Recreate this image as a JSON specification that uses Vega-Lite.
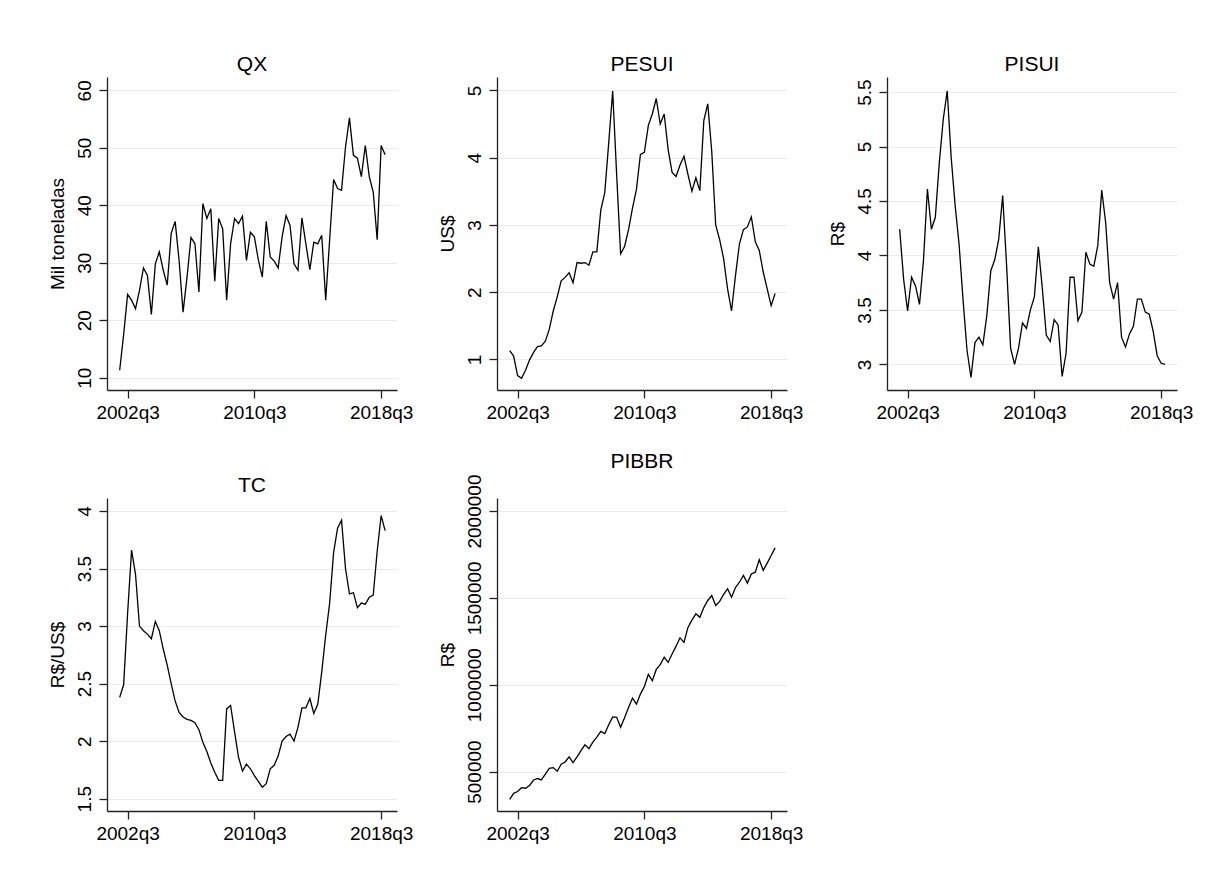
{
  "$schema": "https://vega.github.io/schema/vega-lite/v6.json",
  "autosize": {"type": "none"},
  "padding": {"left": 107, "top": 77, "right": 1111, "bottom": 805},
  "background": "white",
  "datasets": {
    "ts": [
      {"q":"2002q1","t":2002,"QX":11.3,"PESUI":1.13,"PISUI":4.24,"TC":2.38,"PIBBR":340000},
      {"q":"2002q2","t":2002.25,"QX":17.5,"PESUI":1.05,"PISUI":3.78,"TC":2.49,"PIBBR":375000},
      {"q":"2002q3","t":2002.5,"QX":24.5,"PESUI":0.76,"PISUI":3.49,"TC":3.11,"PIBBR":385000},
      {"q":"2002q4","t":2002.75,"QX":23.5,"PESUI":0.72,"PISUI":3.80,"TC":3.66,"PIBBR":407000},
      {"q":"2003q1","t":2003,"QX":22.0,"PESUI":0.84,"PISUI":3.72,"TC":3.45,"PIBBR":404000},
      {"q":"2003q2","t":2003.25,"QX":25.2,"PESUI":0.99,"PISUI":3.55,"TC":3.00,"PIBBR":420000},
      {"q":"2003q3","t":2003.5,"QX":29.1,"PESUI":1.10,"PISUI":3.95,"TC":2.96,"PIBBR":450000},
      {"q":"2003q4","t":2003.75,"QX":27.8,"PESUI":1.19,"PISUI":4.61,"TC":2.93,"PIBBR":460000},
      {"q":"2004q1","t":2004,"QX":21.0,"PESUI":1.20,"PISUI":4.24,"TC":2.89,"PIBBR":452000},
      {"q":"2004q2","t":2004.25,"QX":29.8,"PESUI":1.27,"PISUI":4.35,"TC":3.04,"PIBBR":485000},
      {"q":"2004q3","t":2004.5,"QX":31.9,"PESUI":1.45,"PISUI":4.85,"TC":2.96,"PIBBR":519000},
      {"q":"2004q4","t":2004.75,"QX":28.7,"PESUI":1.72,"PISUI":5.25,"TC":2.80,"PIBBR":523000},
      {"q":"2005q1","t":2005,"QX":26.1,"PESUI":1.93,"PISUI":5.51,"TC":2.66,"PIBBR":502000},
      {"q":"2005q2","t":2005.25,"QX":35.1,"PESUI":2.17,"PISUI":4.90,"TC":2.50,"PIBBR":542000},
      {"q":"2005q3","t":2005.5,"QX":37.2,"PESUI":2.22,"PISUI":4.46,"TC":2.35,"PIBBR":555000},
      {"q":"2005q4","t":2005.75,"QX":30.4,"PESUI":2.29,"PISUI":4.10,"TC":2.25,"PIBBR":585000},
      {"q":"2006q1","t":2006,"QX":21.4,"PESUI":2.14,"PISUI":3.59,"TC":2.21,"PIBBR":552000},
      {"q":"2006q2","t":2006.25,"QX":27.5,"PESUI":2.44,"PISUI":3.13,"TC":2.19,"PIBBR":585000},
      {"q":"2006q3","t":2006.5,"QX":34.4,"PESUI":2.43,"PISUI":2.88,"TC":2.18,"PIBBR":620000},
      {"q":"2006q4","t":2006.75,"QX":33.3,"PESUI":2.44,"PISUI":3.20,"TC":2.16,"PIBBR":654000},
      {"q":"2007q1","t":2007,"QX":24.9,"PESUI":2.40,"PISUI":3.25,"TC":2.10,"PIBBR":632000},
      {"q":"2007q2","t":2007.25,"QX":40.3,"PESUI":2.60,"PISUI":3.18,"TC":1.99,"PIBBR":670000},
      {"q":"2007q3","t":2007.5,"QX":37.7,"PESUI":2.60,"PISUI":3.45,"TC":1.91,"PIBBR":698000},
      {"q":"2007q4","t":2007.75,"QX":39.4,"PESUI":3.22,"PISUI":3.86,"TC":1.81,"PIBBR":731000},
      {"q":"2008q1","t":2008,"QX":26.8,"PESUI":3.48,"PISUI":3.96,"TC":1.73,"PIBBR":719000},
      {"q":"2008q2","t":2008.25,"QX":37.7,"PESUI":4.22,"PISUI":4.15,"TC":1.66,"PIBBR":770000},
      {"q":"2008q3","t":2008.5,"QX":35.9,"PESUI":4.99,"PISUI":4.55,"TC":1.66,"PIBBR":815000},
      {"q":"2008q4","t":2008.75,"QX":23.5,"PESUI":3.75,"PISUI":3.90,"TC":2.28,"PIBBR":812000},
      {"q":"2009q1","t":2009,"QX":33.3,"PESUI":2.57,"PISUI":3.15,"TC":2.31,"PIBBR":755000},
      {"q":"2009q2","t":2009.25,"QX":37.7,"PESUI":2.68,"PISUI":3.00,"TC":2.08,"PIBBR":810000},
      {"q":"2009q3","t":2009.5,"QX":36.8,"PESUI":2.93,"PISUI":3.15,"TC":1.86,"PIBBR":869000},
      {"q":"2009q4","t":2009.75,"QX":38.1,"PESUI":3.25,"PISUI":3.38,"TC":1.74,"PIBBR":923000},
      {"q":"2010q1","t":2010,"QX":30.4,"PESUI":3.53,"PISUI":3.33,"TC":1.80,"PIBBR":888000},
      {"q":"2010q2","t":2010.25,"QX":35.3,"PESUI":4.05,"PISUI":3.50,"TC":1.76,"PIBBR":946000},
      {"q":"2010q3","t":2010.5,"QX":34.5,"PESUI":4.08,"PISUI":3.62,"TC":1.70,"PIBBR":990000},
      {"q":"2010q4","t":2010.75,"QX":30.5,"PESUI":4.48,"PISUI":4.08,"TC":1.65,"PIBBR":1060000},
      {"q":"2011q1","t":2011,"QX":27.5,"PESUI":4.65,"PISUI":3.70,"TC":1.60,"PIBBR":1023000},
      {"q":"2011q2","t":2011.25,"QX":37.2,"PESUI":4.88,"PISUI":3.27,"TC":1.63,"PIBBR":1088000},
      {"q":"2011q3","t":2011.5,"QX":31.0,"PESUI":4.50,"PISUI":3.21,"TC":1.76,"PIBBR":1115000},
      {"q":"2011q4","t":2011.75,"QX":30.3,"PESUI":4.65,"PISUI":3.41,"TC":1.79,"PIBBR":1158000},
      {"q":"2012q1","t":2012,"QX":29.1,"PESUI":4.12,"PISUI":3.36,"TC":1.87,"PIBBR":1129000},
      {"q":"2012q2","t":2012.25,"QX":34.5,"PESUI":3.78,"PISUI":2.89,"TC":2.00,"PIBBR":1177000},
      {"q":"2012q3","t":2012.5,"QX":38.2,"PESUI":3.72,"PISUI":3.10,"TC":2.04,"PIBBR":1222000},
      {"q":"2012q4","t":2012.75,"QX":36.5,"PESUI":3.89,"PISUI":3.80,"TC":2.06,"PIBBR":1270000},
      {"q":"2013q1","t":2013,"QX":29.8,"PESUI":4.02,"PISUI":3.80,"TC":2.00,"PIBBR":1244000},
      {"q":"2013q2","t":2013.25,"QX":28.7,"PESUI":3.75,"PISUI":3.40,"TC":2.12,"PIBBR":1330000},
      {"q":"2013q3","t":2013.5,"QX":37.8,"PESUI":3.50,"PISUI":3.48,"TC":2.29,"PIBBR":1372000},
      {"q":"2013q4","t":2013.75,"QX":33.3,"PESUI":3.70,"PISUI":4.03,"TC":2.29,"PIBBR":1408000},
      {"q":"2014q1","t":2014,"QX":28.8,"PESUI":3.51,"PISUI":3.92,"TC":2.37,"PIBBR":1388000},
      {"q":"2014q2","t":2014.25,"QX":33.6,"PESUI":4.55,"PISUI":3.90,"TC":2.24,"PIBBR":1444000},
      {"q":"2014q3","t":2014.5,"QX":33.3,"PESUI":4.80,"PISUI":4.09,"TC":2.32,"PIBBR":1485000},
      {"q":"2014q4","t":2014.75,"QX":34.8,"PESUI":4.10,"PISUI":4.60,"TC":2.60,"PIBBR":1513000},
      {"q":"2015q1","t":2015,"QX":23.5,"PESUI":3.00,"PISUI":4.30,"TC":2.92,"PIBBR":1456000},
      {"q":"2015q2","t":2015.25,"QX":34.0,"PESUI":2.78,"PISUI":3.75,"TC":3.20,"PIBBR":1480000},
      {"q":"2015q3","t":2015.5,"QX":44.5,"PESUI":2.50,"PISUI":3.60,"TC":3.64,"PIBBR":1520000},
      {"q":"2015q4","t":2015.75,"QX":42.9,"PESUI":2.05,"PISUI":3.75,"TC":3.85,"PIBBR":1552000},
      {"q":"2016q1","t":2016,"QX":42.6,"PESUI":1.72,"PISUI":3.25,"TC":3.92,"PIBBR":1504000},
      {"q":"2016q2","t":2016.25,"QX":50.1,"PESUI":2.25,"PISUI":3.16,"TC":3.50,"PIBBR":1560000},
      {"q":"2016q3","t":2016.5,"QX":55.2,"PESUI":2.72,"PISUI":3.28,"TC":3.28,"PIBBR":1590000},
      {"q":"2016q4","t":2016.75,"QX":48.7,"PESUI":2.93,"PISUI":3.35,"TC":3.29,"PIBBR":1629000},
      {"q":"2017q1","t":2017,"QX":48.2,"PESUI":2.97,"PISUI":3.60,"TC":3.16,"PIBBR":1585000},
      {"q":"2017q2","t":2017.25,"QX":45.0,"PESUI":3.12,"PISUI":3.60,"TC":3.20,"PIBBR":1638000},
      {"q":"2017q3","t":2017.5,"QX":50.4,"PESUI":2.75,"PISUI":3.48,"TC":3.19,"PIBBR":1648000},
      {"q":"2017q4","t":2017.75,"QX":45.0,"PESUI":2.62,"PISUI":3.46,"TC":3.25,"PIBBR":1719000},
      {"q":"2018q1","t":2018,"QX":42.3,"PESUI":2.30,"PISUI":3.30,"TC":3.27,"PIBBR":1658000},
      {"q":"2018q2","t":2018.25,"QX":34.0,"PESUI":2.05,"PISUI":3.08,"TC":3.65,"PIBBR":1700000},
      {"q":"2018q3","t":2018.5,"QX":50.4,"PESUI":1.80,"PISUI":3.01,"TC":3.96,"PIBBR":1744000},
      {"q":"2018q4","t":2018.75,"QX":48.8,"PESUI":1.98,"PISUI":3.00,"TC":3.83,"PIBBR":1788000}
    ]
  },
  "config": {
    "font": "Liberation Sans",
    "view": {"stroke": null},
    "title": {"fontSize": 21, "fontWeight": "normal", "color": "black", "anchor": "middle", "offset": 2},
    "axis": {
      "labelFontSize": 19, "titleFontSize": 19, "labelColor": "black", "titleColor": "black",
      "titleFontWeight": "normal", "domainColor": "#222222", "tickColor": "#222222",
      "tickSize": 8, "domainWidth": 1.3, "tickWidth": 1.3,
      "gridColor": "#E6EEF1", "gridWidth": 1, "labelPadding": 5
    },
    "axisY": {"labelAngle": -90, "labelAlign": "center", "labelBaseline": "bottom", "titlePadding": 8},
    "axisX": {"grid": false, "labelPadding": 5},
    "line": {"color": "black", "strokeWidth": 1.3}
  },
  "columns": 3,
  "spacing": {"row": 108, "column": 100},
  "bounds": "flush",
  "concat": [
    {
      "title": "QX", "width": 290, "height": 313, "data": {"name": "ts"},
      "mark": "line",
      "encoding": {
        "x": {"field": "t", "type": "quantitative", "scale": {"domain": [2001.2, 2019.5], "nice": false, "zero": false},
              "axis": {"values": [2002.5, 2010.5, 2018.5], "labelExpr": "floor(datum.value) + 'q' + (round((datum.value - floor(datum.value)) * 4) + 1)", "title": null}},
        "y": {"field": "QX", "type": "quantitative", "scale": {"domain": [7.86, 62.32], "nice": false, "zero": false},
              "axis": {"values": [10, 20, 30, 40, 50, 60], "format": "d", "title": "Mil toneladas"}}
      }
    },
    {
      "title": "PESUI", "width": 290, "height": 313, "data": {"name": "ts"},
      "mark": "line",
      "encoding": {
        "x": {"field": "t", "type": "quantitative", "scale": {"domain": [2001.2, 2019.5], "nice": false, "zero": false},
              "axis": {"values": [2002.5, 2010.5, 2018.5], "labelExpr": "floor(datum.value) + 'q' + (round((datum.value - floor(datum.value)) * 4) + 1)", "title": null}},
        "y": {"field": "PESUI", "type": "quantitative", "scale": {"domain": [0.545, 5.2], "nice": false, "zero": false},
              "axis": {"values": [1, 2, 3, 4, 5], "format": "d", "title": "US$"}}
      }
    },
    {
      "title": "PISUI", "width": 290, "height": 313, "data": {"name": "ts"},
      "mark": "line",
      "encoding": {
        "x": {"field": "t", "type": "quantitative", "scale": {"domain": [2001.2, 2019.5], "nice": false, "zero": false},
              "axis": {"values": [2002.5, 2010.5, 2018.5], "labelExpr": "floor(datum.value) + 'q' + (round((datum.value - floor(datum.value)) * 4) + 1)", "title": null}},
        "y": {"field": "PISUI", "type": "quantitative", "scale": {"domain": [2.765, 5.638], "nice": false, "zero": false},
              "axis": {"values": [3, 3.5, 4, 4.5, 5, 5.5], "format": "~g", "title": "R$"}}
      }
    },
    {
      "title": "TC", "width": 290, "height": 313, "data": {"name": "ts"},
      "mark": "line",
      "encoding": {
        "x": {"field": "t", "type": "quantitative", "scale": {"domain": [2001.2, 2019.5], "nice": false, "zero": false},
              "axis": {"values": [2002.5, 2010.5, 2018.5], "labelExpr": "floor(datum.value) + 'q' + (round((datum.value - floor(datum.value)) * 4) + 1)", "title": null}},
        "y": {"field": "TC", "type": "quantitative", "scale": {"domain": [1.393, 4.113], "nice": false, "zero": false},
              "axis": {"values": [1.5, 2, 2.5, 3, 3.5, 4], "format": "~g", "title": "R$/US$"}}
      }
    },
    {
      "title": "PIBBR", "width": 290, "height": 313, "data": {"name": "ts"},
      "mark": "line",
      "encoding": {
        "x": {"field": "t", "type": "quantitative", "scale": {"domain": [2001.2, 2019.5], "nice": false, "zero": false},
              "axis": {"values": [2002.5, 2010.5, 2018.5], "labelExpr": "floor(datum.value) + 'q' + (round((datum.value - floor(datum.value)) * 4) + 1)", "title": null}},
        "y": {"field": "PIBBR", "type": "quantitative", "scale": {"domain": [273000, 2075000], "nice": false, "zero": false},
              "axis": {"values": [500000, 1000000, 1500000, 2000000], "format": "d", "title": "R$"}}
      }
    }
  ]
}
